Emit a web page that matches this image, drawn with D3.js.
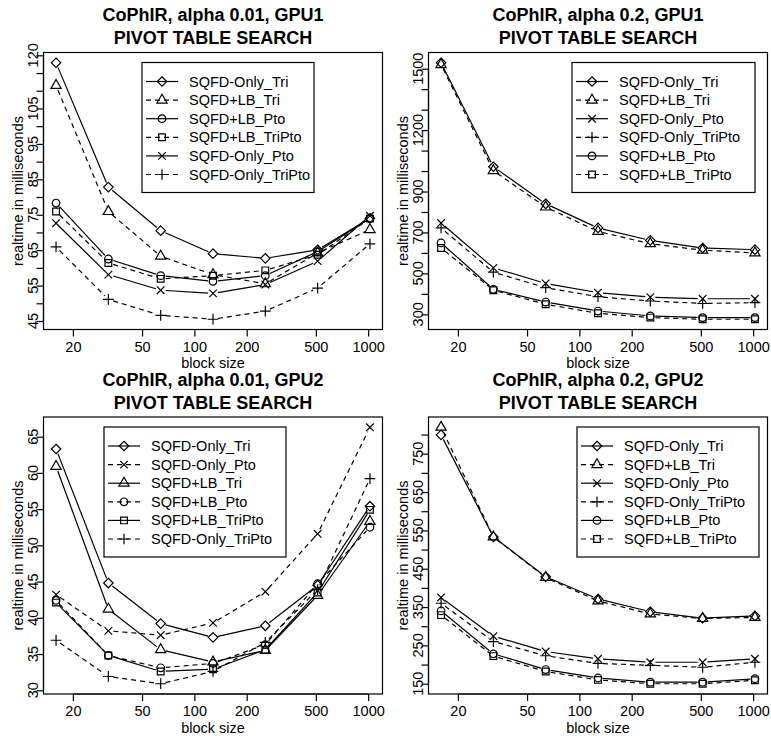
<!DOCTYPE html>
<html>
<head>
<meta charset="utf-8">
<script src="https://cdn.jsdelivr.net/npm/d3@7"></script>
<style>
  body { margin: 0; background: #fff; }
  text { font-family: 'Liberation Sans', Arial, sans-serif; fill: #000; }
</style>
</head>
<body>
<div id="chart"></div>
<script>
  // block sizes on the x axis (log scale)
  let blockSizes = [16, 32, 64, 128, 256, 512, 1024]
  let xTicks     = [20, 50, 100, 200, 500, 1000]

  // CoPhIR, alpha 0.01, GPU1
  let p1OnlyTri    = [117.9, 82.8, 70.5, 64.0, 62.7, 65.1, 74.0]
  let p1LbTri      = [111.5, 75.9, 63.3, 58.1, 55.5, 64.2, 70.8]
  let p1LbPto      = [78.3, 62.5, 57.8, 56.2, 57.8, 64.6, 74.0]
  let p1LbTriPto   = [75.9, 61.4, 56.9, 57.8, 59.3, 63.7, 73.9]
  let p1OnlyPto    = [72.6, 58.1, 53.7, 52.8, 55.3, 61.9, 74.7]
  let p1OnlyTriPto = [65.9, 51.1, 46.6, 45.5, 47.8, 54.3, 66.8]
  let p1TickVals   = [45, 50, 55, 60, 65, 70, 75, 80, 85, 90, 95, 100, 105, 110, 115, 120]
  let p1TickLabels = [45, 55, 65, 75, 85, 95, 105, 120]

  // CoPhIR, alpha 0.2, GPU1
  let p2OnlyTri    = [1529, 1021, 840, 722, 661, 624, 616]
  let p2LbTri      = [1520, 1002, 824, 705, 645, 613, 600]
  let p2OnlyPto    = [746, 527, 451, 406, 384, 376, 376]
  let p2OnlyTriPto = [722, 506, 430, 386, 365, 353, 357]
  let p2LbPto      = [649, 422, 360, 316, 292, 284, 284]
  let p2LbTriPto   = [624, 418, 349, 305, 284, 276, 276]
  let p2TickVals   = [300, 400, 500, 600, 700, 800, 900, 1000, 1100, 1200, 1300, 1400, 1500]
  let p2TickLabels = [300, 500, 700, 900, 1200, 1500]

  // CoPhIR, alpha 0.01, GPU2
  let p3OnlyTri    = [63.3, 44.8, 39.2, 37.3, 38.9, 44.5, 55.4]
  let p3OnlyPto    = [43.2, 38.2, 37.6, 39.3, 43.6, 51.6, 66.3]
  let p3LbTri      = [60.9, 41.2, 35.6, 33.9, 35.5, 43.1, 53.3]
  let p3LbPto      = [42.4, 34.8, 33.1, 33.7, 36.3, 44.7, 52.5]
  let p3LbTriPto   = [42.1, 34.8, 32.6, 32.9, 35.6, 43.5, 54.9]
  let p3OnlyTriPto = [36.9, 31.9, 30.9, 32.6, 36.6, 43.9, 59.2]
  let p3TickVals   = [30, 35, 40, 45, 50, 55, 60, 65]
  let p3TickLabels = [30, 35, 40, 45, 50, 55, 60, 65]

  // CoPhIR, alpha 0.2, GPU2
  let p4OnlyTri    = [799, 533, 429, 371, 338, 321, 327]
  let p4LbTri      = [819, 533, 427, 366, 332, 320, 323]
  let p4OnlyPto    = [375, 274, 234, 215, 206, 206, 215]
  let p4OnlyTriPto = [360, 260, 223, 203, 198, 193, 206]
  let p4LbPto      = [340, 228, 187, 165, 154, 154, 163]
  let p4LbTriPto   = [329, 222, 182, 160, 150, 150, 159]
  let p4TickVals   = [150, 200, 250, 300, 350, 400, 450, 500, 550, 600, 650, 700, 750, 800]
  let p4TickLabels = [150, 250, 350, 450, 550, 650, 750]

  let symbolOf = {
    'SQFD-Only_Tri': 'diamond', 'SQFD+LB_Tri': 'triangle', 'SQFD+LB_Pto': 'circle',
    'SQFD+LB_TriPto': 'square', 'SQFD-Only_Pto': 'cross', 'SQFD-Only_TriPto': 'plus' }

  let panels = [
    { title: 'CoPhIR, alpha 0.01, GPU1', col: 0, row: 0, tickVals: p1TickVals, tickLabels: p1TickLabels,
      legendX: 98.5, legendW: 172,
      series: [ ['SQFD-Only_Tri', p1OnlyTri, false], ['SQFD+LB_Tri', p1LbTri, true],
                ['SQFD+LB_Pto', p1LbPto, false], ['SQFD+LB_TriPto', p1LbTriPto, true],
                ['SQFD-Only_Pto', p1OnlyPto, false], ['SQFD-Only_TriPto', p1OnlyTriPto, true] ] },
    { title: 'CoPhIR, alpha 0.2, GPU1', col: 1, row: 0, tickVals: p2TickVals, tickLabels: p2TickLabels,
      legendX: 143.5, legendW: 183,
      series: [ ['SQFD-Only_Tri', p2OnlyTri, false], ['SQFD+LB_Tri', p2LbTri, true],
                ['SQFD-Only_Pto', p2OnlyPto, false], ['SQFD-Only_TriPto', p2OnlyTriPto, true],
                ['SQFD+LB_Pto', p2LbPto, false], ['SQFD+LB_TriPto', p2LbTriPto, true] ] },
    { title: 'CoPhIR, alpha 0.01, GPU2', col: 0, row: 1, tickVals: p3TickVals, tickLabels: p3TickLabels,
      legendX: 60.5, legendW: 182,
      series: [ ['SQFD-Only_Tri', p3OnlyTri, false], ['SQFD-Only_Pto', p3OnlyPto, true],
                ['SQFD+LB_Tri', p3LbTri, false], ['SQFD+LB_Pto', p3LbPto, true],
                ['SQFD+LB_TriPto', p3LbTriPto, false], ['SQFD-Only_TriPto', p3OnlyTriPto, true] ] },
    { title: 'CoPhIR, alpha 0.2, GPU2', col: 1, row: 1, tickVals: p4TickVals, tickLabels: p4TickLabels,
      legendX: 148.5, legendW: 182,
      series: [ ['SQFD-Only_Tri', p4OnlyTri, false], ['SQFD+LB_Tri', p4LbTri, true],
                ['SQFD-Only_Pto', p4OnlyPto, false], ['SQFD-Only_TriPto', p4OnlyTriPto, true],
                ['SQFD+LB_Pto', p4LbPto, false], ['SQFD+LB_TriPto', p4LbTriPto, true] ] }
  ]

  let W = 771, H = 736
  let R = 3.8, GAP = 5, DASH = '5,4', SW = 1.2

  function symbolPath(kind, x, y) {
    let p = d3.path()
    if (kind === 'circle') { p.moveTo(x + R, y); p.arc(x, y, R, 0, 2 * Math.PI) }
    else if (kind === 'square') { let h = R * 0.886; p.rect(x - h, y - h, 2 * h, 2 * h) }
    else if (kind === 'diamond') {
      let h = R * 1.253
      p.moveTo(x, y - h); p.lineTo(x + h, y); p.lineTo(x, y + h); p.lineTo(x - h, y); p.closePath() }
    else if (kind === 'triangle') {
      let r = 1.555 * R, yc = 0.778 * R, xc = 1.347 * R
      p.moveTo(x, y - r); p.lineTo(x + xc, y + yc); p.lineTo(x - xc, y + yc); p.closePath() }
    else if (kind === 'cross') {
      p.moveTo(x - R, y - R); p.lineTo(x + R, y + R); p.moveTo(x - R, y + R); p.lineTo(x + R, y - R) }
    else if (kind === 'plus') {
      let h = R * Math.SQRT2
      p.moveTo(x - h, y); p.lineTo(x + h, y); p.moveTo(x, y - h); p.lineTo(x, y + h) }
    return p.toString()
  }

  let lineFunction = d3.line().x(function(d) { return d[0] }).y(function(d) { return d[1] })

  // type="b" style segments with a gap around each point
  function gappedSegments(pts) {
    let segs = []
    for (let i = 0; i < pts.length - 1; i++) {
      let a = pts[i], b = pts[i + 1]
      let dx = b[0] - a[0], dy = b[1] - a[1], len = Math.sqrt(dx * dx + dy * dy)
      if (len <= 2 * GAP) continue
      let ux = dx / len, uy = dy / len
      segs.push([[a[0] + ux * GAP, a[1] + uy * GAP], [b[0] - ux * GAP, b[1] - uy * GAP]])
    }
    return segs
  }

  let svg = d3.select('#chart').append('svg:svg').attr('width', W).attr('height', H)

  function drawPanel(cfg) {
    let ox = cfg.col * 385, oy = cfg.row * 364.5
    let left = 43.5 + ox, right = 382.5 + ox, top = 52.5 + oy, bottom = 329.5 + oy
    let g = svg.append('svg:g')

    // R-style 4% padding of the data range
    let lo = Math.log(blockSizes[0]), hi = Math.log(blockSizes[blockSizes.length - 1]), pad = (hi - lo) * 0.04
    let x = d3.scaleLog().domain([Math.exp(lo - pad), Math.exp(hi + pad)]).range([left, right])
    let all = [].concat.apply([], cfg.series.map(function(s) { return s[1] }))
    let ymin = d3.min(all), ymax = d3.max(all), ypad = (ymax - ymin) * 0.04
    let y = d3.scaleLinear().domain([ymin - ypad, ymax + ypad]).range([bottom, top])

    // titles
    g.append('svg:text').attr('x', (left + right) / 2).attr('y', 21 + oy).attr('text-anchor', 'middle')
      .style('font-size', '18px').style('font-weight', 'bold').text(cfg.title)
    g.append('svg:text').attr('x', (left + right) / 2).attr('y', 44 + oy).attr('text-anchor', 'middle')
      .style('font-size', '18px').style('font-weight', 'bold').text('PIVOT TABLE SEARCH')

    // x axis
    let xa = g.append('svg:g').attr('transform', 'translate(0,' + bottom + ')')
      .call(d3.axisBottom(x).tickValues(xTicks).tickFormat(d3.format('d')).tickSizeInner(7).tickSizeOuter(0).tickPadding(5))
    xa.select('.domain').attr('d', 'M' + x(xTicks[0]) + ',0H' + x(xTicks[xTicks.length - 1]))
    xa.selectAll('line, .domain').attr('stroke-width', SW)
    xa.selectAll('text').style('font-size', '14.5px').style('font-family', "'Liberation Sans', Arial, sans-serif")
    g.append('svg:text').attr('x', (left + right) / 2).attr('y', bottom + 38.5).attr('text-anchor', 'middle')
      .style('font-size', '14.5px').text('block size')

    // y axis
    let ya = g.append('svg:g').attr('transform', 'translate(' + left + ',0)')
      .call(d3.axisLeft(y).tickValues(cfg.tickVals).tickFormat('').tickSizeInner(7).tickSizeOuter(0))
    ya.select('.domain').attr('d', 'M0,' + y(cfg.tickVals[0]) + 'V' + y(cfg.tickVals[cfg.tickVals.length - 1]))
    ya.selectAll('line, .domain').attr('stroke-width', SW)
    g.selectAll('text.ylab').data(cfg.tickLabels).enter().append('svg:text')
      .attr('class', 'ylab')
      .attr('transform', function(d) { return 'translate(' + (left - 6) + ',' + y(d) + ') rotate(-90)' })
      .attr('text-anchor', 'middle').style('font-size', '14.5px').text(function(d) { return d })
    g.append('svg:text')
      .attr('transform', 'translate(' + (ox + 23) + ',' + ((top + bottom) / 2) + ') rotate(-90)')
      .attr('text-anchor', 'middle').style('font-size', '14.5px').text('realtime in milliseconds')

    // box
    g.append('svg:rect').attr('x', left).attr('y', top).attr('width', right - left).attr('height', bottom - top)
      .attr('fill', 'none').attr('stroke', '#000').attr('stroke-width', SW)

    // series
    cfg.series.forEach(function(s) {
      let pts = blockSizes.map(function(b, i) { return [x(b), y(s[1][i])] })
      let sg = g.append('svg:g')
      sg.selectAll('path.seg').data(gappedSegments(pts)).enter().append('svg:path')
        .attr('class', 'seg').attr('d', lineFunction)
        .attr('fill', 'none').attr('stroke', '#000').attr('stroke-width', SW)
        .attr('stroke-dasharray', s[2] ? DASH : null)
      sg.selectAll('path.sym').data(pts).enter().append('svg:path')
        .attr('class', 'sym').attr('d', function(d) { return symbolPath(symbolOf[s[0]], d[0], d[1]) })
        .attr('fill', 'none').attr('stroke', '#000').attr('stroke-width', SW)
    })

    // legend
    let lx = left + cfg.legendX, ly = top + 10
    let lg = g.append('svg:g')
    lg.append('svg:rect').attr('x', lx).attr('y', ly).attr('width', cfg.legendW).attr('height', 130)
      .attr('fill', '#fff').attr('stroke', '#000').attr('stroke-width', SW)
    let rows = lg.selectAll('g.row').data(cfg.series).enter().append('svg:g')
      .attr('transform', function(d, i) { return 'translate(' + lx + ',' + (ly + 19 + i * 18.6) + ')' })
    rows.append('svg:path').attr('d', 'M4,0H36')
      .attr('stroke', '#000').attr('stroke-width', SW)
      .attr('stroke-dasharray', function(d) { return d[2] ? DASH : null })
    rows.append('svg:path').attr('d', function(d) { return symbolPath(symbolOf[d[0]], 20, 0) })
      .attr('fill', 'none').attr('stroke', '#000').attr('stroke-width', SW)
    rows.append('svg:text').attr('x', 47).attr('y', 5).style('font-size', '14.5px')
      .text(function(d) { return d[0] })
  }

  panels.forEach(drawPanel)
</script>
</body>
</html>
